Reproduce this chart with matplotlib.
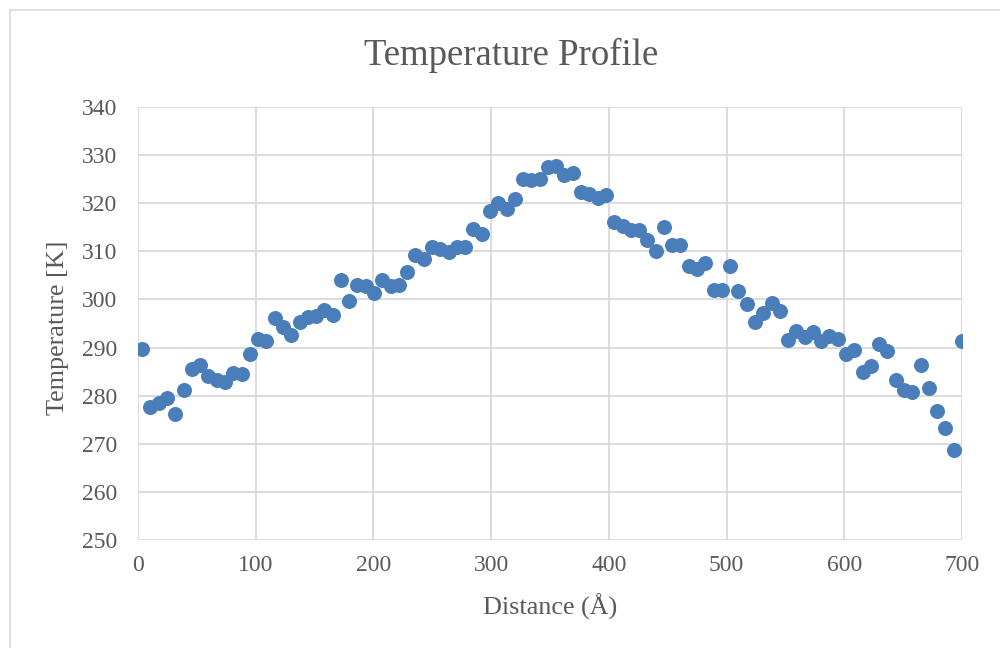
import matplotlib
matplotlib.use("Agg")
import matplotlib.pyplot as plt
from matplotlib.lines import Line2D

# Distance bin centres (Å)
distance = [3.5, 10.6, 17.6, 24.6, 31.7, 38.7, 45.7, 52.8, 59.8, 66.9,
            73.9, 80.9, 88.0, 95.0, 102.0, 109.1, 116.1, 123.1, 130.2, 137.2,
            144.2, 151.3, 158.3, 165.3, 172.4, 179.4, 186.4, 193.5, 200.5, 207.5,
            214.6, 221.6, 228.7, 235.7, 242.7, 249.8, 256.8, 263.8, 270.9, 277.9,
            284.9, 292.0, 299.0, 306.0, 313.1, 320.1, 327.1, 334.2, 341.2, 348.2,
            355.3, 362.3, 369.3, 376.4, 383.4, 390.5, 397.5, 404.5, 411.6, 418.6,
            425.6, 432.7, 439.7, 446.7, 453.8, 460.8, 467.8, 474.9, 481.9, 488.9,
            496.0, 503.0, 510.0, 517.1, 524.1, 531.1, 538.2, 545.2, 552.3, 559.3,
            566.3, 573.4, 580.4, 587.4, 594.5, 601.5, 608.5, 615.6, 622.6, 629.6,
            636.7, 643.7, 650.7, 657.8, 664.8, 671.8, 678.9, 685.9, 692.9, 700.0]

# Temperature per bin (K)
temperature = [289.6, 277.7, 278.4, 279.5, 276.2, 281.2, 285.5, 286.4, 284.0, 283.3,
               282.9, 284.7, 284.6, 288.7, 291.8, 291.4, 296.1, 294.3, 292.6, 295.3,
               296.4, 296.6, 297.8, 296.8, 304.0, 299.7, 303.0, 302.8, 301.3, 304.0,
               302.8, 303.0, 305.7, 309.2, 308.4, 310.9, 310.5, 309.9, 310.9, 310.9,
               314.6, 313.6, 318.4, 320.0, 318.8, 320.9, 325.0, 324.8, 325.0, 327.5,
               327.7, 325.9, 326.3, 322.3, 321.9, 321.1, 321.7, 316.1, 315.3, 314.4,
               314.4, 312.4, 310.1, 315.1, 311.3, 311.3, 307.0, 306.3, 307.6, 302.0,
               302.0, 307.0, 301.8, 299.1, 295.3, 297.2, 299.3, 297.6, 291.6, 293.4,
               292.2, 293.2, 291.4, 292.4, 291.8, 288.7, 289.5, 284.9, 286.2, 290.7,
               289.3, 283.3, 281.2, 280.8, 286.4, 281.6, 276.8, 273.3, 268.7, 291.4]

x_ticks = [0, 100, 200, 300, 400, 500, 600, 700]
y_ticks = [250, 260, 270, 280, 290, 300, 310, 320, 330, 340]

TEXT = "#595959"
GRID = "#D9D9D9"
BLUE = "#4A7EBB"
H = 648

plt.rcParams["font.family"] = ["Liberation Serif", "DejaVu Serif"]

fig = plt.figure(figsize=(10, 6.48), dpi=100)
ax = fig.add_axes([0.138, 1 - 540 / H, 0.824, (540 - 107) / H])

ax.plot(distance, temperature, linestyle="none", marker="o",
        markersize=10.8, color=BLUE, markeredgewidth=0, zorder=3)

ax.set_xlim(0, 700)
ax.set_ylim(250, 340)
ax.set_xticks(x_ticks)
ax.set_yticks(y_ticks)
ax.grid(True, color=GRID, linewidth=1.3, zorder=0)
ax.set_axisbelow(True)
for side in ax.spines.values():
    side.set_visible(False)
ax.tick_params(length=0, labelsize=17, colors=TEXT)
ax.tick_params(axis="y", pad=15)
ax.tick_params(axis="x", pad=11)

fig.text(0.550, 1 - 615 / H, "Distance (Å)", ha="center", va="baseline",
         fontsize=18.8, color=TEXT)
fig.text(0.058, 1 - 328 / H, "Temperature [K]", ha="center", va="center",
         rotation=90, fontsize=18.8, color=TEXT)
fig.text(0.511, 1 - 65 / H, "Temperature Profile", ha="center", va="baseline",
         fontsize=26.5, color=TEXT)

# chart-area frame
fig.add_artist(Line2D([0.010, 1.0], [1 - 10 / H, 1 - 10 / H],
                      transform=fig.transFigure, color=GRID, linewidth=1.2))
fig.add_artist(Line2D([0.010, 0.010], [0.0, 1 - 10 / H],
                      transform=fig.transFigure, color=GRID, linewidth=1.2))

fig.savefig("out.png", dpi=100)
